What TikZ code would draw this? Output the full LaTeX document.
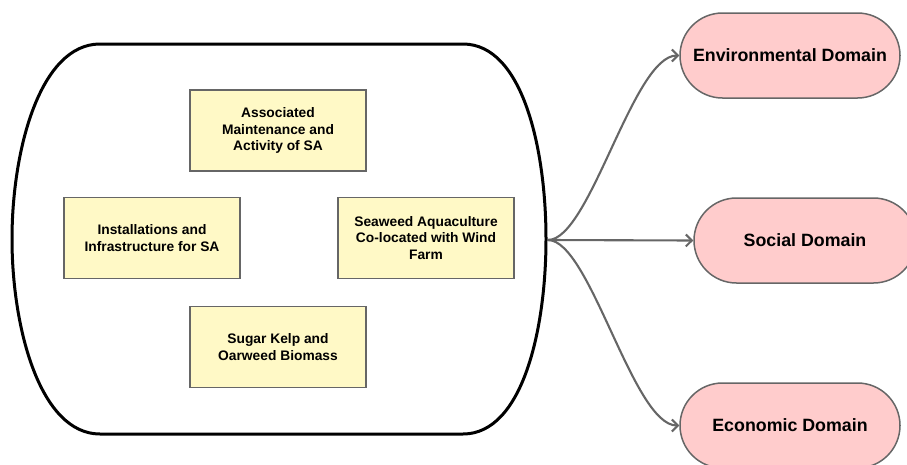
\documentclass[tikz,border=0pt]{standalone}
\usepackage{fontspec}
\setmainfont{Liberation Sans}
\usetikzlibrary{arrows.meta}
\definecolor{boxyellow}{HTML}{FFF9C6}
\definecolor{boxpink}{HTML}{FFCCCC}
\definecolor{edgegray}{HTML}{666666}
\tikzset{
  ybox/.style={draw=edgegray, line width=1.5pt, fill=boxyellow, minimum width=176pt, minimum height=81pt,
    align=center, inner sep=2pt, font=\fontsize{13.8pt}{16.5pt}\selectfont\bfseries},
  pbox/.style={draw=edgegray, line width=1.5pt, fill=boxpink, minimum width=220pt, minimum height=85pt,
    rounded corners=42.5pt, inner sep=2pt, font=\fontsize{17.8pt}{21pt}\selectfont\bfseries},
  conn/.style={draw=edgegray, line width=2.1pt, -{Straight Barb[length=6pt,width=12pt]}}
}
\begin{document}
\begin{tikzpicture}[x=1pt,y=-1pt]
\useasboundingbox (0,0) rectangle (907,464);
% frame
\draw[line width=3pt, line join=round] (100,44) -- (463,44)
  .. controls (523,44) and (546,150) .. (546,239)
  .. controls (546,328) and (523,434) .. (463,434)
  -- (100,434)
  .. controls (40,434) and (12,328) .. (12,239)
  .. controls (12,150) and (40,44) .. (100,44) -- cycle;
\coordinate (src) at (548,240);
% yellow boxes
\node[ybox] (assoc) at (278,130.5) {Associated\\Maintenance and\\Activity of SA};
\node[ybox] (inst) at (152,238) {Installations and\\Infrastructure for SA};
\node[ybox] (sea) at (426,238) {Seaweed Aquaculture\\Co-located with Wind\\Farm};
\node[ybox] (kelp) at (278,347) {Sugar Kelp and\\Oarweed Biomass};
% pink boxes
\node[pbox] (env) at (790,55.5) {Environmental Domain};
\node[pbox, minimum width=222pt] (soc) at (805,240.5) {Social Domain};
\node[pbox] (eco) at (790,425.5) {Economic Domain};
% connectors
\draw[conn] (src) .. controls (590,240) and (633,55.5) .. (env.west);
\draw[conn] (src) -- (soc.west);
\draw[conn] (src) .. controls (590,240) and (633,425.5) .. (eco.west);
\end{tikzpicture}
\end{document}
